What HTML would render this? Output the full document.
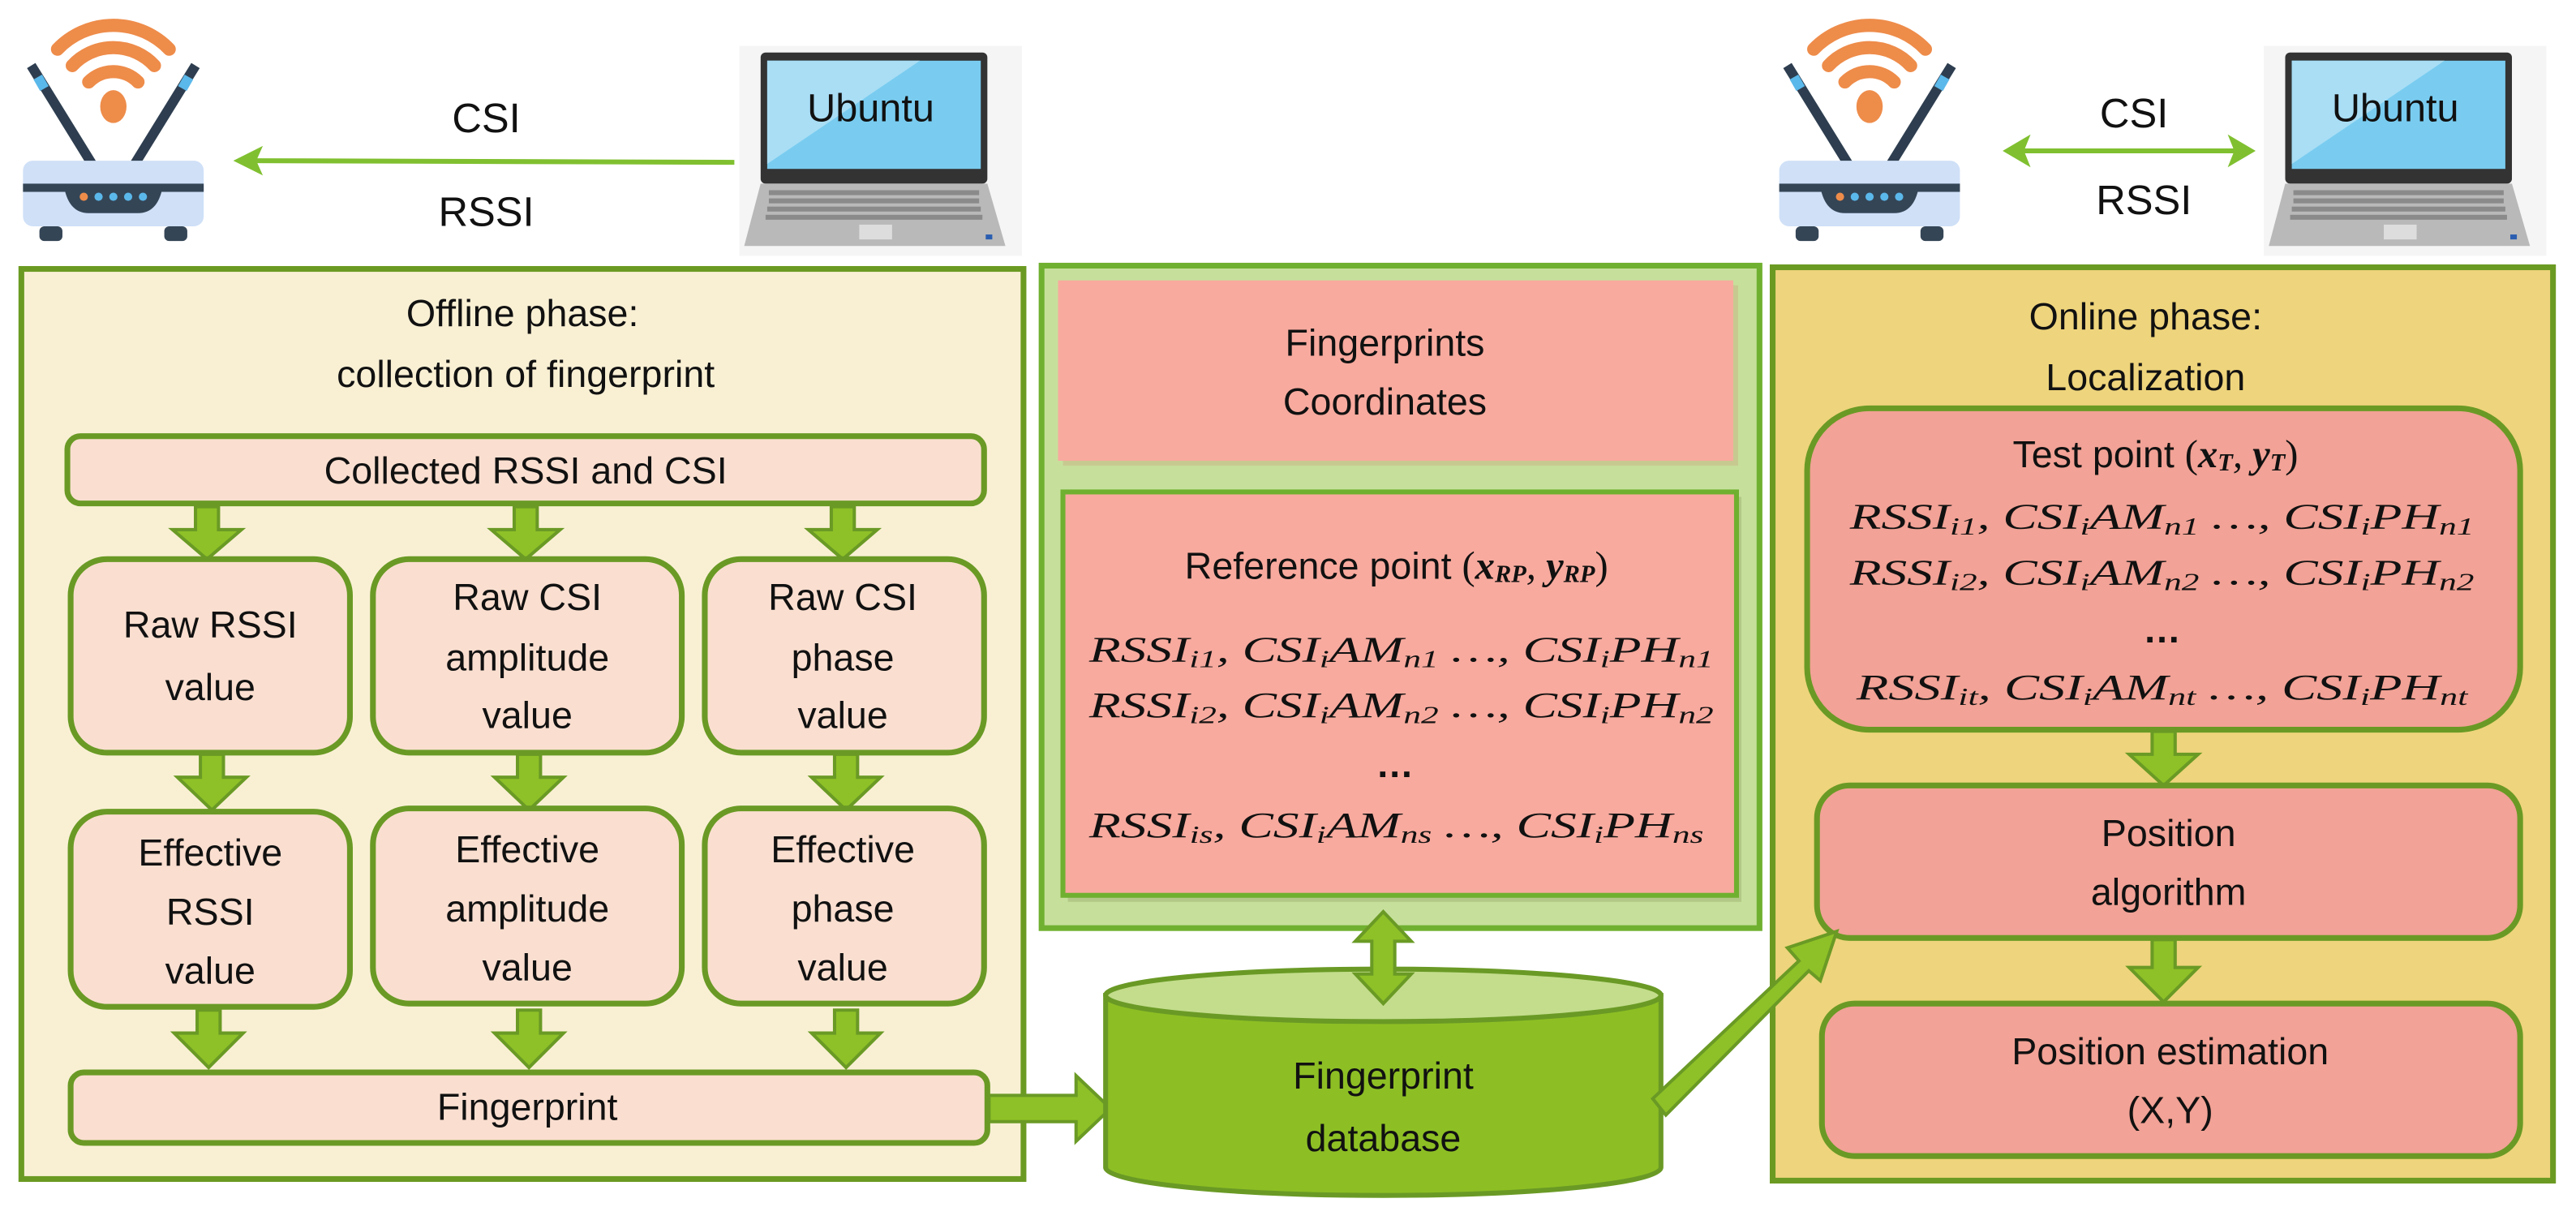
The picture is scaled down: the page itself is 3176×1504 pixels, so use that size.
<!DOCTYPE html>
<html><head><meta charset="utf-8"><style>
html,body{margin:0;padding:0;background:#fff;}
svg{display:block;}
text{font-family:"Liberation Sans",sans-serif;fill:#111;}
.t{font-size:23px;text-anchor:middle;dominant-baseline:central;}
.m{font-family:"Liberation Serif",serif;font-style:italic;font-size:22px;dominant-baseline:central;}
.s{font-size:15px;}
.box{fill:#fadfd0;stroke:#6a9a25;stroke-width:3.5;}
.arr{fill:#8ec127;stroke:#6a9a25;stroke-width:2;stroke-linejoin:miter;}
.ob{fill:#f2a296;stroke:#6a9a25;stroke-width:3.5;}
</style></head><body>
<svg width="3176" height="1504" viewBox="0 0 1568 744" preserveAspectRatio="none" xmlns="http://www.w3.org/2000/svg">
<defs>
<g id="router">
 <g fill="none" stroke="#ee8c4a" stroke-width="8" stroke-linecap="round">
  <path d="M50 50 A21 21 0 0 1 80 50"/>
  <path d="M40 40 A34 34 0 0 1 90 40"/>
  <path d="M31 30 A47 47 0 0 1 99 30"/>
 </g>
 <ellipse cx="65" cy="65" rx="8" ry="10" fill="#ee8c4a"/>
 <line x1="15" y1="40" x2="52" y2="100" stroke="#2e3e50" stroke-width="6"/>
 <line x1="115" y1="40" x2="78" y2="100" stroke="#2e3e50" stroke-width="6"/>
 <line x1="19" y1="47" x2="23" y2="54" stroke="#5bb8ea" stroke-width="6"/>
 <line x1="111" y1="47" x2="107" y2="54" stroke="#5bb8ea" stroke-width="6"/>
 <rect x="10" y="98" width="110" height="40" rx="6" fill="#cfe0f7"/>
 <rect x="10" y="112" width="110" height="5" fill="#344556"/>
 <path d="M35 114 L95 114 Q92 130 80 130 L50 130 Q38 130 35 114Z" fill="#344556"/>
 <circle cx="47" cy="120" r="2.5" fill="#ee8c4a"/>
 <circle cx="56" cy="120" r="2.5" fill="#5bb8ea"/>
 <circle cx="65" cy="120" r="2.5" fill="#5bb8ea"/>
 <circle cx="74" cy="120" r="2.5" fill="#5bb8ea"/>
 <circle cx="83" cy="120" r="2.5" fill="#5bb8ea"/>
 <rect x="20" y="138" width="14" height="9" rx="3" fill="#344556"/>
 <rect x="96" y="138" width="14" height="9" rx="3" fill="#344556"/>
</g>
<g id="laptop">
 <rect x="450" y="28" width="172" height="128" fill="#f5f5f5"/>
 <rect x="463" y="32" width="138" height="80" rx="3" fill="#333"/>
 <rect x="467" y="37" width="130" height="66" fill="#79ccf0"/>
 <polygon points="467,37 560,37 467,100" fill="#a9def5"/>
 <polygon points="463,112 601,112 612,150 453,150" fill="#b9b9b9"/>
 <g fill="#8a8a8a">
  <rect x="468" y="116" width="128" height="3"/>
  <rect x="468" y="121" width="128" height="3"/>
  <rect x="467" y="126" width="130" height="3"/>
  <rect x="466" y="131" width="132" height="3"/>
 </g>
 <rect x="523" y="137" width="20" height="9" fill="#ddd"/>
 <rect x="600" y="143" width="4" height="3" fill="#2a5db0"/>
</g>
</defs>

<use href="#router" x="4" y="0"/>
<use href="#laptop"/>
<text class="t" x="296" y="72" style="font-size:25px">CSI</text>
<text class="t" x="296" y="129" style="font-size:25px">RSSI</text>
<line x1="447" y1="99" x2="155" y2="98" stroke="#80c030" stroke-width="3"/>
<polygon points="142,98 160,89 156,98 160,107" fill="#80c030"/>
<use href="#router" x="1073" y="0"/>
<use href="#laptop" x="928"/>
<text class="t" x="1299" y="69" style="font-size:25px">CSI</text>
<text class="t" x="1305" y="122" style="font-size:25px">RSSI</text>
<line x1="1230" y1="92" x2="1362" y2="92" stroke="#80c030" stroke-width="3"/>
<polygon points="1219,92 1236,82 1232,92 1236,102" fill="#80c030"/>
<polygon points="1373,92 1356,82 1360,92 1356,102" fill="#80c030"/>
<text class="t" x="530" y="66" style="font-size:24px">Ubuntu</text>
<text class="t" x="1458" y="66" style="font-size:24px">Ubuntu</text>

<rect x="13" y="164" width="610" height="555" fill="#f9f0d4" stroke="#6b9a22" stroke-width="3.5"/>
<text class="t" x="318" y="191">Offline phase:</text>
<text class="t" x="320" y="228">collection of fingerprint</text>
<rect class="box" x="41" y="266" width="558" height="41" rx="8"/>
<text class="t" x="320" y="287">Collected RSSI and CSI</text>

<g>
<polygon class="arr" points="119,309 133,309 133,323 147,323 126,341 105,323 119,323"/>
<polygon class="arr" points="313,309 327,309 327,323 341,323 320,341 299,323 313,323"/>
<polygon class="arr" points="506,309 520,309 520,323 534,323 513,341 492,323 506,323"/>
<polygon class="arr" points="122,460 136,460 136,474 150,474 129,494 108,474 122,474"/>
<polygon class="arr" points="315,460 329,460 329,474 343,474 322,494 301,474 315,474"/>
<polygon class="arr" points="508,460 522,460 522,474 536,474 515,494 494,474 508,474"/>
<polygon class="arr" points="120,616 134,616 134,630 148,630 127,651 106,630 120,630"/>
<polygon class="arr" points="315,616 329,616 329,630 343,630 322,651 301,630 315,630"/>
<polygon class="arr" points="508,616 522,616 522,630 536,630 515,651 494,630 508,630"/>
</g>

<rect class="box" x="43" y="341" width="170" height="118" rx="22"/>
<rect class="box" x="227" y="341" width="188" height="118" rx="22"/>
<rect class="box" x="429" y="341" width="170" height="118" rx="22"/>
<text class="t" x="128" y="381">Raw RSSI</text>
<text class="t" x="128" y="419">value</text>
<text class="t" x="321" y="364">Raw CSI</text>
<text class="t" x="321" y="401">amplitude</text>
<text class="t" x="321" y="436">value</text>
<text class="t" x="513" y="364">Raw CSI</text>
<text class="t" x="513" y="401">phase</text>
<text class="t" x="513" y="436">value</text>

<rect class="box" x="43" y="495" width="170" height="119" rx="22"/>
<rect class="box" x="227" y="493" width="188" height="119" rx="22"/>
<rect class="box" x="429" y="493" width="170" height="119" rx="22"/>
<text class="t" x="128" y="520">Effective</text>
<text class="t" x="128" y="556">RSSI</text>
<text class="t" x="128" y="592">value</text>
<text class="t" x="321" y="518">Effective</text>
<text class="t" x="321" y="554">amplitude</text>
<text class="t" x="321" y="590">value</text>
<text class="t" x="513" y="518">Effective</text>
<text class="t" x="513" y="554">phase</text>
<text class="t" x="513" y="590">value</text>

<rect class="box" x="43" y="654" width="558" height="43" rx="8"/>
<text class="t" x="321" y="675">Fingerprint</text>

<polygon class="arr" points="602,668 655,668 655,656 676,676 655,696 655,684 602,684"/>

<rect x="634" y="162" width="437" height="404" fill="#c6e09c" stroke="#70b030" stroke-width="3.5"/>
<rect x="647" y="174" width="411" height="110" fill="#c9a07a" opacity="0.35"/>
<rect x="644" y="171" width="411" height="110" fill="#f8aa9e"/>
<text class="t" x="843" y="209">Fingerprints</text>
<text class="t" x="843" y="245">Coordinates</text>
<rect x="650" y="303" width="410" height="247" fill="#9db070" opacity="0.5"/>
<rect x="647" y="300" width="410" height="246" fill="#f8aa9e" stroke="#70b030" stroke-width="3"/>
<text class="t" x="850" y="345">Reference point <tspan class="m" style="font-style:normal;font-size:24px">(</tspan><tspan class="m" style="font-weight:bold;font-size:24px">x</tspan><tspan class="m s" style="font-weight:bold" dy="5">RP</tspan><tspan class="m" style="font-size:24px" dy="-5">, </tspan><tspan class="m" style="font-weight:bold;font-size:24px">y</tspan><tspan class="m s" style="font-weight:bold" dy="5">RP</tspan><tspan class="m" style="font-style:normal;font-size:24px" dy="-5">)</tspan></text>

<text class="m" x="663" y="396" textLength="380" lengthAdjust="spacingAndGlyphs">RSSI<tspan class="s" dy="6">i1</tspan><tspan dy="-6">, CSI</tspan><tspan class="s" dy="6">i</tspan><tspan dy="-6">AM</tspan><tspan class="s" dy="6">n1</tspan><tspan dy="-6"> …, CSI</tspan><tspan class="s" dy="6">i</tspan><tspan dy="-6">PH</tspan><tspan class="s" dy="6">n1</tspan></text>
<text class="m" x="663" y="430" textLength="380" lengthAdjust="spacingAndGlyphs">RSSI<tspan class="s" dy="6">i2</tspan><tspan dy="-6">, CSI</tspan><tspan class="s" dy="6">i</tspan><tspan dy="-6">AM</tspan><tspan class="s" dy="6">n2</tspan><tspan dy="-6"> …, CSI</tspan><tspan class="s" dy="6">i</tspan><tspan dy="-6">PH</tspan><tspan class="s" dy="6">n2</tspan></text>
<text class="t" x="849" y="466" style="font-weight:bold">…</text>
<text class="m" x="663" y="503" textLength="374" lengthAdjust="spacingAndGlyphs">RSSI<tspan class="s" dy="6">is</tspan><tspan dy="-6">, CSI</tspan><tspan class="s" dy="6">i</tspan><tspan dy="-6">AM</tspan><tspan class="s" dy="6">ns</tspan><tspan dy="-6"> …, CSI</tspan><tspan class="s" dy="6">i</tspan><tspan dy="-6">PH</tspan><tspan class="s" dy="6">ns</tspan></text>

<path d="M673 607 L673 712 A169 17 0 0 0 1011 712 L1011 607 Z" fill="#8dbf24" stroke="#6a9a25" stroke-width="3"/>
<ellipse cx="842" cy="607" rx="169" ry="16" fill="#c3dd8c" stroke="#6a9a25" stroke-width="3"/>
<text class="t" x="842" y="656">Fingerprint</text>
<text class="t" x="842" y="694">database</text>
<polygon class="arr" points="842,556 859,574 849,574 849,594 859,594 842,612 825,594 835,594 835,574 825,574"/>

<rect x="1079" y="163" width="475" height="557" fill="#eed47c" stroke="#6b9a22" stroke-width="3.5"/>
<text class="t" x="1306" y="193">Online phase:</text>
<text class="t" x="1306" y="230">Localization</text>
<rect class="ob" x="1100" y="249" width="434" height="196" rx="38"/>
<text class="t" x="1312" y="277">Test point <tspan class="m" style="font-style:normal;font-size:24px">(</tspan><tspan class="m" style="font-weight:bold;font-size:24px">x</tspan><tspan class="m s" style="font-weight:bold" dy="5">T</tspan><tspan class="m" style="font-size:24px" dy="-5">, </tspan><tspan class="m" style="font-weight:bold;font-size:24px">y</tspan><tspan class="m s" style="font-weight:bold" dy="5">T</tspan><tspan class="m" style="font-style:normal;font-size:24px" dy="-5">)</tspan></text>
<text class="m" x="1126" y="315" textLength="380" lengthAdjust="spacingAndGlyphs">RSSI<tspan class="s" dy="6">i1</tspan><tspan dy="-6">, CSI</tspan><tspan class="s" dy="6">i</tspan><tspan dy="-6">AM</tspan><tspan class="s" dy="6">n1</tspan><tspan dy="-6"> …, CSI</tspan><tspan class="s" dy="6">i</tspan><tspan dy="-6">PH</tspan><tspan class="s" dy="6">n1</tspan></text>
<text class="m" x="1126" y="349" textLength="380" lengthAdjust="spacingAndGlyphs">RSSI<tspan class="s" dy="6">i2</tspan><tspan dy="-6">, CSI</tspan><tspan class="s" dy="6">i</tspan><tspan dy="-6">AM</tspan><tspan class="s" dy="6">n2</tspan><tspan dy="-6"> …, CSI</tspan><tspan class="s" dy="6">i</tspan><tspan dy="-6">PH</tspan><tspan class="s" dy="6">n2</tspan></text>
<text class="t" x="1316" y="384" style="font-weight:bold">…</text>
<text class="m" x="1130" y="419" textLength="372" lengthAdjust="spacingAndGlyphs">RSSI<tspan class="s" dy="6">it</tspan><tspan dy="-6">, CSI</tspan><tspan class="s" dy="6">i</tspan><tspan dy="-6">AM</tspan><tspan class="s" dy="6">nt</tspan><tspan dy="-6"> …, CSI</tspan><tspan class="s" dy="6">i</tspan><tspan dy="-6">PH</tspan><tspan class="s" dy="6">nt</tspan></text>

<polygon class="arr" points="1310,446 1324,446 1324,460 1338,460 1317,479 1296,460 1310,460"/>
<rect class="ob" x="1106" y="479" width="428" height="93" rx="20"/>
<text class="t" x="1320" y="508">Position</text>
<text class="t" x="1320" y="544">algorithm</text>
<polygon class="arr" points="1310,573 1324,573 1324,590 1338,590 1317,611 1296,590 1310,590"/>
<rect class="ob" x="1109" y="612" width="425" height="93" rx="20"/>
<text class="t" x="1321" y="641">Position estimation</text>
<text class="t" x="1321" y="677">(X,Y)</text>

<polygon class="arr" points="1006,670 1095,586 1088,578 1118,568 1108,598 1101,592 1014,680"/>
</svg>
</body></html>
